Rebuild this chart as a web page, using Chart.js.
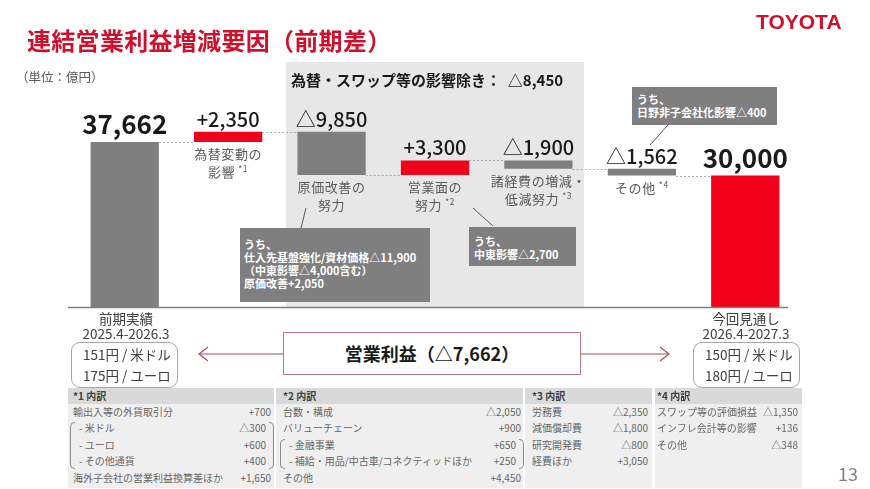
<!DOCTYPE html>
<html><head><meta charset="utf-8">
<script src="https://cdn.jsdelivr.net/npm/chart.js@4"></script>
<style>
html,body{margin:0;padding:0;background:#fff;}
body{width:870px;height:489px;position:relative;overflow:hidden;font-family:"Noto Sans CJK JP","Noto Sans",sans-serif;color:#595959;}
.a{position:absolute;white-space:nowrap;}
#shade{position:absolute;left:286px;top:62px;width:298px;height:245px;background:#e7e7e7;}
#cv{position:absolute;left:0;top:0;}
.callout{position:absolute;background:#7f7f7f;color:#fff;font-weight:700;font-size:11px;line-height:13px;box-sizing:border-box;}
.rbox{position:absolute;border:1px solid #a6a6a6;border-radius:9px;box-sizing:border-box;}
.col{position:absolute;top:388px;}
.hd{position:absolute;left:0;top:0;height:16px;background:#d9d9d9;font-weight:700;font-size:10px;line-height:16px;color:#404040;box-sizing:border-box;padding-left:5px;}
.bd{position:absolute;left:0;top:16px;height:84px;background:#efefef;}
.row{position:absolute;left:0;height:16.5px;line-height:16.5px;font-size:10px;color:#666;}
.br{position:absolute;border:1px solid #8a8a8a;width:5px;box-sizing:border-box;}
</style>
</head><body>
<div id="shade"></div>
<canvas id="cv" width="870" height="489"></canvas>

<div class="a" style="left:27px;top:24px;font-size:24px;letter-spacing:0.3px;line-height:32px;font-weight:700;color:#cf102d;">連結営業利益増減要因（前期差）</div>
<div class="a" style="left:756px;top:10px;font-family:'Liberation Sans',Arial,sans-serif;font-size:21px;line-height:24px;font-weight:700;color:#d0102b;">TOYOTA</div>
<div class="a" style="left:16px;top:68px;font-size:12.5px;line-height:18px;color:#595959;">（単位：億円）</div>
<div class="a" style="left:291px;top:70px;font-size:15px;line-height:20px;font-weight:700;color:#1a1a1a;">為替・スワップ等の影響除き：&nbsp;&nbsp;△8,450</div>

<svg class="a" style="left:0;top:0;" width="870" height="489">
  <line x1="301" y1="228" x2="306" y2="208" stroke="#595959" stroke-width="1"/>
  <line x1="493" y1="226" x2="473" y2="208" stroke="#595959" stroke-width="1"/>
  <line x1="668" y1="125" x2="650" y2="145" stroke="#595959" stroke-width="1"/>
  <line x1="200" y1="354" x2="283" y2="354" stroke="#a4505c" stroke-width="1.2"/>
  <polyline points="208,347 199,354 208,361" fill="none" stroke="#a4505c" stroke-width="1.2"/>
  <line x1="581" y1="354" x2="668" y2="354" stroke="#a4505c" stroke-width="1.2"/>
  <polyline points="660,347 669,354 660,361" fill="none" stroke="#a4505c" stroke-width="1.2"/>
</svg>

<div class="callout" style="left:240px;top:228px;width:190px;height:74px;padding:10px 0 0 4px;">うち、<br>仕入先基盤強化/資材価格△11,900<br>（中東影響△4,000含む）<br>原価改善+2,050</div>
<div class="callout" style="left:469px;top:227px;width:107px;height:39px;padding:8px 0 0 5px;">うち、<br>中東影響△2,700</div>
<div class="callout" style="left:632px;top:87px;width:145px;height:38px;padding:6px 0 0 5px;">うち、<br>日野非子会社化影響△400</div>

<div class="a" style="left:66px;top:311px;width:120px;text-align:center;font-size:13.5px;line-height:15px;color:#404040;">前期実績<br>2025.4-2026.3</div>
<div class="rbox" style="left:71px;top:342px;width:107px;height:46px;"></div>
<div class="a" style="left:83px;top:344px;font-size:13.5px;line-height:21px;color:#404040;">151円 / 米ドル<br>175円 / ユーロ</div>

<div class="a" style="left:686px;top:311px;width:120px;text-align:center;font-size:13.5px;line-height:15px;color:#404040;">今回見通し<br>2026.4-2027.3</div>
<div class="rbox" style="left:693px;top:342px;width:107px;height:46px;"></div>
<div class="a" style="left:705px;top:344px;font-size:13.5px;line-height:21px;color:#404040;">150円 / 米ドル<br>180円 / ユーロ</div>

<div class="a" style="left:283px;top:332px;width:298px;height:43px;border:1px solid #b77a85;box-sizing:border-box;background:#fff;text-align:center;font-size:18px;line-height:41px;font-weight:700;color:#1a1a1a;">営業利益（△7,662）</div>

<div id="tables"></div>
<div class="a" style="left:838px;top:461px;font-size:18px;line-height:24px;color:#808080;">13</div>

<script>
// ---- chart data ----
const categories = ['前期実績','為替変動の影響','原価改善の努力','営業面の努力','諸経費の増減・低減努力','その他','今回見通し'];
const startValue = 37662;
const changes = [2350, -9850, 3300, -1900, -1562];
const endValue = 30000;
const valueLabels = ['37,662','+2,350','△9,850','+3,300','△1,900','△1,562','30,000'];
const catLabelLines = [
  [],
  [['為替変動の',''],['影響','*1']],
  [['原価改善の',''],['努力','']],
  [['営業面の',''],['努力','*2']],
  [['諸経費の増減・',''],['低減努力','*3']],
  [['その他','*4']],
  []
];

// ---- table data ----
const table1Rows = [['輸出入等の外貨取引分','+700',0],['- 米ドル','△300',1],['- ユーロ','+600',1],['- その他通貨','+400',1],['海外子会社の営業利益換算差ほか','+1,650',0]];
const table2Rows = [['台数・構成','△2,050',0],['バリューチェーン','+900',0],['- 金融事業','+650',1],['- 補給・用品/中古車/コネクティッドほか','+250',1],['その他','+4,450',0]];
const table3Rows = [['労務費','△2,350',0],['減価償却費','△1,800',0],['研究開発費','△800',0],['経費ほか','+3,050',0]];
const table4Rows = [['スワップ等の評価損益','△1,350',0],['インフレ会計等の影響','+136',0],['その他','△348',0]];

const RED = '#f0001a', GRAY = '#7f7f7f';

// build floating bars
const floating = [[0, startValue]];
const ends = [startValue];
let run = startValue;
for (const c of changes) {
  const next = run + c;
  floating.push([Math.min(run, next), Math.max(run, next)]);
  run = next; ends.push(run);
}
floating.push([0, endValue]);
ends.push(endValue);
const colors = [GRAY].concat(changes.map(c => c > 0 ? RED : GRAY)).concat([RED]);

const wf = {
  id: 'wf',
  afterDatasetsDraw(chart) {
    const ctx = chart.ctx, ys = chart.scales.y;
    const meta = chart.getDatasetMeta(0);
    ctx.save();
    // connectors
    ctx.setLineDash([2, 2]); ctx.strokeStyle = '#ababab'; ctx.lineWidth = 1;
    for (let i = 0; i < meta.data.length - 1; i++) {
      const a = meta.data[i], b = meta.data[i + 1];
      const y = Math.round(ys.getPixelForValue(ends[i])) + 0.5;
      ctx.beginPath(); ctx.moveTo(a.x + a.width / 2, y); ctx.lineTo(b.x - b.width / 2, y); ctx.stroke();
    }
    ctx.setLineDash([]);
    // baseline axis
    const y0 = ys.getPixelForValue(0);
    ctx.strokeStyle = '#808080'; ctx.lineWidth = 1.5;
    ctx.beginPath(); ctx.moveTo(68, y0 + 0.5); ctx.lineTo(788, y0 + 0.5); ctx.stroke();
    // value labels
    ctx.textAlign = 'center'; ctx.textBaseline = 'alphabetic'; ctx.fillStyle = '#1a1a1a';
    meta.data.forEach((bar, i) => {
      const top = Math.min(bar.y, bar.base);
      const big = (i === 0 || i === meta.data.length - 1);
      ctx.font = big ? '700 26px "Noto Sans CJK JP"' : '500 20px "Noto Sans CJK JP"';
      ctx.fillText(valueLabels[i], bar.x, top - (big ? 8 : 5));
    });
    // category labels under floating bars
    ctx.fillStyle = '#595959'; ctx.textBaseline = 'middle'; ctx.textAlign = 'left';
    try { ctx.letterSpacing = '0.6px'; } catch (e) {}
    meta.data.forEach((bar, i) => {
      const lines = catLabelLines[i];
      if (!lines.length) return;
      const bottom = Math.max(bar.y, bar.base);
      lines.forEach((ln, j) => {
        const y = bottom + 12 + j * 18;
        ctx.font = '400 13px "Noto Sans CJK JP"';
        const w1 = ctx.measureText(ln[0]).width;
        ctx.font = '400 8.5px "Noto Sans CJK JP"';
        const w2 = ln[1] ? ctx.measureText(ln[1]).width + 3 : 0;
        const x0 = bar.x - (w1 + w2) / 2;
        ctx.font = '400 13px "Noto Sans CJK JP"';
        ctx.fillText(ln[0], x0, y);
        if (ln[1]) { ctx.font = '400 8.5px "Noto Sans CJK JP"'; ctx.fillText(ln[1], x0 + w1 + 3, y - 3); }
      });
    });
    ctx.restore();
  }
};

new Chart(document.getElementById('cv'), {
  type: 'bar',
  data: { labels: categories, datasets: [{ data: floating, backgroundColor: colors, borderWidth: 0, barPercentage: 0.66, categoryPercentage: 1 }] },
  options: {
    responsive: false, animation: false,
    layout: { padding: { left: 73, right: 73, top: 102, bottom: 182 } },
    plugins: { legend: { display: false }, tooltip: { enabled: false } },
    scales: { x: { display: false }, y: { display: false, min: 0, max: 46800 } }
  },
  plugins: [wf]
});

// ---- tables ----
function makeTable(left, width, title, rows, bracketRange, valRight, padL) {
  const col = document.createElement('div');
  col.className = 'col'; col.style.left = left + 'px'; col.style.width = width + 'px'; col.style.height = '100px';
  let html = `<div class="hd" style="width:${width}px;padding-left:${padL}px">${title}</div><div class="bd" style="width:${width}px"></div>`;
  rows.forEach((r, i) => {
    const top = 16 + 8 - 8.25 + i * 16.5;
    const sub = r[2];
    html += `<div class="row" style="top:${top}px;left:${sub ? padL + 6 : padL}px">${r[0]}</div>`;
    html += `<div class="row" style="top:${top}px;left:auto;right:${sub ? valRight + 5 : valRight}px">${r[1]}</div>`;
  });
  if (bracketRange) {
    const t = 16 + 8 - 8.25 + bracketRange[0] * 16.5 + 2;
    const h = (bracketRange[1] - bracketRange[0] + 1) * 16.5 - 3;
    html += `<div class="br" style="left:${padL - 3}px;top:${t}px;height:${h}px;border-right:none;border-radius:5px 0 0 5px"></div>`;
    html += `<div class="br" style="right:${valRight - 3}px;top:${t}px;height:${h}px;border-left:none;border-radius:0 5px 5px 0"></div>`;
  }
  col.innerHTML = html;
  document.getElementById('tables').appendChild(col);
}
makeTable(68, 206, '*1 内訳', table1Rows, [1, 3], 3, 5);
makeTable(276, 247, '*2 内訳', table2Rows, [2, 3], 2, 7);
makeTable(525, 127, '*3 内訳', table3Rows, null, 4, 7);
makeTable(655, 147, '*4 内訳', table4Rows, null, 4, 2);
</script>
</body></html>
